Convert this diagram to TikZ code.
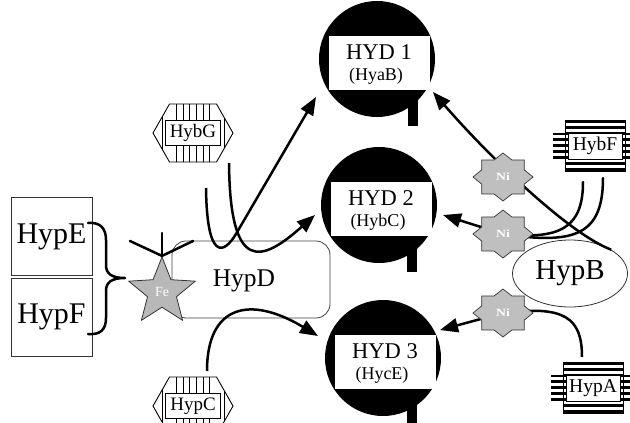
\documentclass[tikz,border=0pt]{standalone}
\usepackage{fontspec}
\setmainfont{Liberation Serif}
\usetikzlibrary{arrows.meta,shapes.geometric}

\tikzset{
  conn/.style={line width=2.5pt, line cap=round},
  arr/.style={line width=2.5pt, -{Triangle[length=18pt,width=14pt]}},
  protbox/.style={draw=black!80, line width=0.8pt, minimum width=81pt,
    minimum height=78pt, inner sep=0pt, font=\fontsize{30}{30}\selectfont},
  hydcirc/.style={circle, fill=black, minimum size=116pt, inner sep=0pt},
  hydplate/.style={rectangle, fill=white, minimum width=101pt, minimum height=54pt, inner sep=0pt},
  hydtitle/.style={inner sep=0pt, font=\fontsize{22.5}{22.5}\selectfont},
  hydsub/.style={inner sep=0pt, font=\fontsize{18}{18}\selectfont},
  festar/.style={star, star points=5, star point ratio=2.3, minimum size=70pt,
    inner sep=0pt, fill=black!28, draw=black!80, line width=0.8pt,
    text=white, font=\fontsize{14}{14}\selectfont},
  nistar/.style={star, star points=8, star point ratio=1.3, minimum size=48pt,
    inner sep=0pt, xscale=1.25, transform shape, fill=black!25, draw=black!80,
    line width=0.7pt, text=white, font=\fontsize{11}{11}\selectfont\bfseries},
  brace/.style={line width=2.5pt, line cap=round, line join=round},
  thinline/.style={line width=0.9pt},
}

% hydrogenase large subunit: black disc, white plate, foot
\newcommand\hydunit[6]{%
  \node[hydcirc] (#1) at (#2,#3) {};
  \fill ([xshift=#6pt, yshift=-35pt]#1.center) rectangle ([xshift=#6pt+10pt, yshift=-67pt]#1.center);
  \node[hydplate] (#1plate) at ([xshift=2pt, yshift=-4pt]#1.center) {};
  \node[hydtitle] (#1title) at ([xshift=2pt, yshift=7pt]#1.center) {#4};
  \node[hydsub] (#1sub) at ([xshift=-1pt, yshift=-17pt]#1.center) {#5};
}

% hexagonal chaperone with vertical hatching
\newcommand\hexprot[4]{%
  \begin{scope}[shift={(#2,#3)}]
    \begin{scope}
      \clip (-40,0) -- (-23.5,-29) -- (23.5,-29) -- (40,0) -- (23.5,29) -- (-23.5,29) -- cycle;
      \foreach \s in {-31,-16.7,-10,-3.3,3.3,10,16.7,31}
        \draw[thinline] (\s,-30) -- (\s,30);
    \end{scope}
    \draw[thinline] (-40,0) -- (-23.5,-29) -- (23.5,-29) -- (40,0) -- (23.5,29) -- (-23.5,29) -- cycle;
    \node[draw, fill=white, thinline, minimum width=55pt, minimum height=25pt,
      inner sep=0pt, font=\fontsize{19}{19}\selectfont] (#1) at (0,0) {#4};
  \end{scope}
}

% striped nickel-insertion protein box
\newcommand\stripeprot[4]{%
  \begin{scope}[shift={(#2,#3)}]
    \begin{scope}
      \clip (-30,-25) rectangle (30,26) (-42,-12) rectangle (42,14);
      \foreach \s in {-23.5,-17.5,...,26}
        \draw[line width=2.6pt] (-43,\s) -- (43,\s);
    \end{scope}
    \draw[line width=0.5pt] (-30,-25) rectangle (30,26);
    \node[draw, fill=white, line width=0.6pt, minimum width=54pt, minimum height=26pt,
      inner sep=0pt, font=\fontsize{19.5}{19.5}\selectfont] (#1) at (0,1) {#4};
  \end{scope}
}

\begin{document}
\begin{tikzpicture}[x=1pt,y=-1pt]
\useasboundingbox (0,0) rectangle (630,423);

% HypE / HypF
\node[protbox] (hypE) at (51.5,236.5) {HypE};
\node[protbox] (hypF) at (51.5,317) {HypF};

% curly brace
\coordinate (brTop) at (88,223);
\coordinate (brTip) at (125,278);
\coordinate (brBot) at (88,334);
\draw[brace] (brTop) .. controls (100,222) and (106,228) .. (106,240) -- (106,265)
  .. controls (106,274) and (112,278) .. (brTip)
  .. controls (112,278) and (106,282) .. (106,291) -- (106,318)
  .. controls (106,330) and (100,335) .. (brBot);

% HypD
\node[draw=black!75, line width=0.8pt, rounded corners=14pt, minimum width=158pt,
  minimum height=77pt] (hypD) at (251,279.5) {};
\node[font=\fontsize{25.5}{25.5}\selectfont] (hypDtext) at (244,281) {HypD};

% HypB
\node[ellipse, draw=black!80, line width=0.8pt, minimum width=115pt, minimum height=67pt,
  font=\fontsize{29}{29}\selectfont] (hypB) at (570,273.5) {HypB};

% hydrogenases
\hydunit{hyd1}{377}{59}{HYD 1}{(HyaB)}{31}
\hydunit{hyd2}{379}{205}{HYD 2}{(HybC)}{28}
\hydunit{hyd3}{383}{358}{HYD 3}{(HycE)}{24}

% chaperones
\hexprot{hybG}{193}{133}{HybG}
\hexprot{hypC}{193}{406}{HypC}
\stripeprot{hybF}{595}{145}{HybF}
\stripeprot{hypA}{593}{387}{HypA}

% connector ends
\coordinate (gA) at (206,188);
\coordinate (gB) at (229,163);
\coordinate (cA) at (207,371);
\coordinate (fA) at (583,182);
\coordinate (fB) at (603,178);
\coordinate (aA) at (582,357);
\coordinate (tip1L) at (316,97);
\coordinate (tip1R) at (433,92);
\coordinate (tip2L) at (315,215);
\coordinate (tip2R) at (443,215);
\coordinate (tip3L) at (318,336);
\coordinate (tip3R) at (440,330);
\coordinate (ni1c) at (503,177);
\coordinate (ni2c) at (503,234);
\coordinate (ni3c) at (503,313);

% Fe star with its ligand lines
\node[festar] (fe) at (162,292) {Fe};
\coordinate (feA) at (130,241);
\coordinate (feB) at (162,233);
\coordinate (feC) at (193,241);
\draw[conn] (feA) -- (fe.outer point 1) -- (feC);
\draw[conn] (fe.outer point 1) -- (feB);

% left-hand deliveries
\draw[arr] (gA) .. controls (207,262) and (224,254) .. (236,234) -- (tip1L);
\draw[arr] (gB) .. controls (230,275) and (262,262) .. (tip2L);
\draw[arr] (cA) .. controls (207,305) and (250,295) .. (tip3L);

% nickel deliveries
\draw[arr] (hypB.30) .. controls (570,234) and (493,161) .. (tip1R);
\draw[conn] (fA) .. controls (583,228) and (560,240) .. (ni2c);
\draw[conn] (fB) .. controls (603,235) and (575,245) .. (ni2c);
\draw[arr] (ni2c) -- (tip2R);
\draw[arr] (aA) .. controls (582,318) and (565,305) .. (ni3c) -- (tip3R);

\node[nistar] (ni1) at (ni1c) {Ni};
\node[nistar] (ni2) at (ni2c) {Ni};
\node[nistar] (ni3) at (ni3c) {Ni};
\end{tikzpicture}
\end{document}
